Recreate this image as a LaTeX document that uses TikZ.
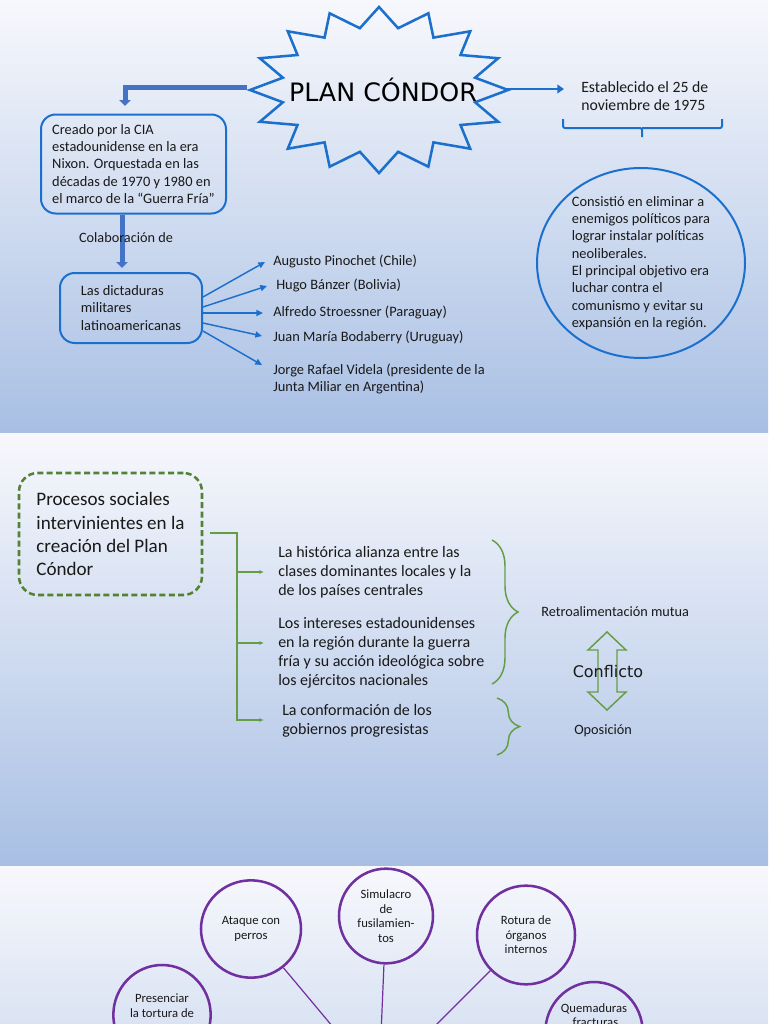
\documentclass[tikz,border=0pt]{standalone}
\usepackage{fontspec}
\setmainfont{Carlito}
\newfontfamily\dejavu{DejaVu Sans}
\usetikzlibrary{arrows.meta, calc, shapes.geometric, decorations.pathreplacing}
\definecolor{bgtop}{RGB}{247,248,252}
\definecolor{bgbot}{RGB}{168,191,228}
\definecolor{cblue}{RGB}{28,112,205}
\definecolor{fatblue}{RGB}{68,114,196}
\definecolor{txt}{RGB}{25,25,25}
\definecolor{gdark}{RGB}{84,130,53}
\definecolor{cgreen}{RGB}{100,158,68}
\definecolor{cpurple}{RGB}{112,48,160}
\tikzset{
    slide/.style={top color=bgtop, bottom color=bgbot, draw=none},
    burst/.style={draw=cblue, line width=1.9pt, line join=miter},
    title/.style={font=\dejavu\fontsize{19}{23}\selectfont, text=black, minimum width=195pt, minimum height=124pt},
    box/.style={draw=cblue, line width=1.5pt, rounded corners=11pt, align=left, text=txt, font=\fontsize{10.8}{13}\selectfont},
    lbl/.style={align=left, text=txt, font=\fontsize{10.8}{13}\selectfont, inner sep=0pt, anchor=west},
    fatarrow/.style={-{Triangle[length=4.5pt,width=8.5pt]}, line width=3.75pt, fatblue},
    arrow/.style={-{Triangle[length=5pt,width=4.5pt]}, line width=1.1pt, cblue},
    procbox/.style={draw=gdark, line width=1.9pt, dash pattern=on 4.5pt off 2.5pt, rounded corners=14pt, align=left, text=txt, font=\fontsize{14.3}{17.3}\selectfont},
    proctext/.style={align=left, text=txt, font=\fontsize{12}{14.25}\selectfont, inner sep=0pt, anchor=west},
    garrow/.style={-{Latex[length=3.5pt,width=3pt]}, line width=1.1pt, cgreen},
    gbrace/.style={decorate, decoration={brace, amplitude=#1}, draw=cgreen, line width=1.1pt},
    small/.style={text=txt, font=\fontsize{10.7}{13}\selectfont, inner sep=0pt, anchor=west},
    tortura/.style={ellipse, draw=cpurple, line width=1.9pt, minimum width=74pt, minimum height=74pt, inner sep=0pt, align=center, text=txt, font=\fontsize{9.5}{10.9}\selectfont},
    tline/.style={cpurple, line width=0.9pt}
}
\begin{document}
\begin{tikzpicture}[x=0.75pt, y=-0.75pt]
    \useasboundingbox (0,0) rectangle (768,1024);
    \fill[slide] (0,0) rectangle (768,433);
    \fill[slide] (0,433) rectangle (768,866);
    \fill[slide] (0,866) rectangle (768,1299);

    \coordinate (bc) at (379,90);
    \draw[burst] (bc) +(90:129 and 83) \foreach \i in {1,...,31}{ -- +({90+11.25*\i}:{129-31*mod(\i,2)} and {83-20*mod(\i,2)}) } -- cycle;
    \node[title] (plan) at (383,90) {PLAN CÓNDOR};

    \node[box, minimum width=138.75pt, minimum height=74.25pt] (cia) at (133.5,164) {Creado por la CIA\\estadounidense en la era\\Nixon. Orquestada en las\\décadas de 1970 y 1980 en\\el marco de la “Guerra Fría”};
    \node[box, minimum width=106.5pt, minimum height=52.5pt] (dict) at (131,308) {Las dictaduras\\militares\\latinoamericanas};
    \coordinate (colb) at (125,106);
    \coordinate (colx) at (122,0);
    \draw[fatarrow] ($(plan.west)+(-6,-2)$) -| (colb);
    \draw[fatarrow, shorten >=3pt] (cia.south -| colx) -- (dict.north -| colx);
    \node[small, anchor=center] (colab) at (126,238) {Colaboración de};

    \node[lbl] (pinochet) at (273,261) {Augusto Pinochet (Chile)};
    \node[lbl] (banzer) at (276,285) {Hugo Bánzer (Bolivia)};
    \node[lbl] (stroessner) at (273,312) {Alfredo Stroessner (Paraguay)};
    \node[lbl] (bordaberry) at (273,337) {Juan María Bodaberry (Uruguay)};
    \node[lbl] (videla) at (273,379) {Jorge Rafael Videla (presidente de la\\Junta Miliar en Argentina)};
    \draw[arrow] ($(dict.east)+(0,-11)$) -- ($(pinochet.west)+(-8,1)$);
    \draw[arrow] ($(dict.east)+(0,-1)$) -- ($(banzer.west)+(-9,1)$);
    \draw[arrow] ($(dict.east)+(0,5)$) -- ($(stroessner.west)+(-10,1)$);
    \draw[arrow] ($(dict.east)+(0,15)$) -- ($(bordaberry.west)+(-11,-1)$);
    \draw[arrow] ($(dict.east)+(0,23)$) -- ($(videla.west)+(-11,-14)$);

    \node[lbl, font=\fontsize{11.8}{13.8}\selectfont] (estab) at (581,96) {Establecido el 25 de\\noviembre de 1975};
    \draw[arrow, line width=2.2pt, -{Triangle[length=5pt,width=6.5pt]}] ($(plan.east)+(-6,-1)$) -- ($(estab.west)+(-17,-7)$);
    \draw[cblue, line width=1.5pt, rounded corners=1.5pt] (563,119) |- (642,128) -- (642,137) (642,128) -| (722,119);
    \node[ellipse, draw=cblue, line width=1.5pt, minimum width=156pt, minimum height=142.5pt, inner sep=0pt, align=left, text=txt, font=\fontsize{10.8}{13}\selectfont] (objetivo) at (641,263) {Consistió en eliminar a\\enemigos políticos para\\lograr instalar políticas\\neoliberales.\\El principal objetivo era\\luchar contra el\\comunismo y evitar su\\expansión en la región.};

    \node[procbox, minimum width=137.25pt, minimum height=91.5pt] (proc) at (110.5,534) {Procesos sociales\\intervinientes en la\\creación del Plan\\Cóndor};
    \coordinate (trunk) at (237,533);
    \node[proctext] (alianza) at (278,572) {La histórica alianza entre las\\clases dominantes locales y la\\de los países centrales};
    \node[proctext] (intereses) at (278,653) {Los intereses estadounidenses\\en la región durante la guerra\\fría y su acción ideológica sobre\\los ejércitos nacionales};
    \node[proctext] (progres) at (282,721) {La conformación de los\\gobiernos progresistas};
    \draw[garrow] ($(proc.east)+(7,-1)$) -- (trunk) |- ($(progres.west)+(-18,-1)$);
    \draw[garrow] (trunk |- alianza.west) -- ($(alianza.west)+(-14,0)$);
    \draw[garrow] ($(trunk |- intereses.west)+(0,-10)$) -- ($(intereses.west)+(-14,-10)$);
    \draw[gbrace=19.5pt] (492,540) -- (492,684);
    \draw[gbrace=17pt] (497,698) -- (497,755);
    \node[small] (retro) at (541,612) {Retroalimentación mutua};
    \node[small] (opos) at (574,731) {Oposición};
    \draw[cgreen, line width=1.1pt, line join=miter] (607,632) -- (626,650) -- (617,650) -- (617,692) -- (626,692) -- (607,710) -- (588,692) -- (598,692) -- (598,650) -- (588,650) -- cycle;
    \node[font=\dejavu\fontsize{12}{14}\selectfont, text=txt] (conf) at (608,672) {Conflicto};

    \coordinate (centro) at (379,1082);
    \node[tortura, minimum width=75pt, minimum height=73pt] (perros) at (251,929) {Ataque con\\perros};
    \node[tortura, minimum width=70.5pt, minimum height=71pt] (fusil) at (386,916) {Simulacro\\de\\fusilamien-\\tos};
    \node[tortura, minimum width=73.5pt] (organos) at (526,935) {Rotura de\\órganos\\internos};
    \node[tortura, minimum width=73pt, minimum height=75pt] (presenciar) at (162,1015) {Presenciar\\la tortura de\\ \strut};
    \node[tortura, minimum width=73pt, minimum height=75pt] (quemaduras) at (594,1032) {Quemaduras\\, fracturas,\\ \strut\\ \strut};
    \draw[tline] (perros) -- (centro);
    \draw[tline] (fusil) -- (centro);
    \draw[tline] (organos) -- (centro);
\end{tikzpicture}
\end{document}
